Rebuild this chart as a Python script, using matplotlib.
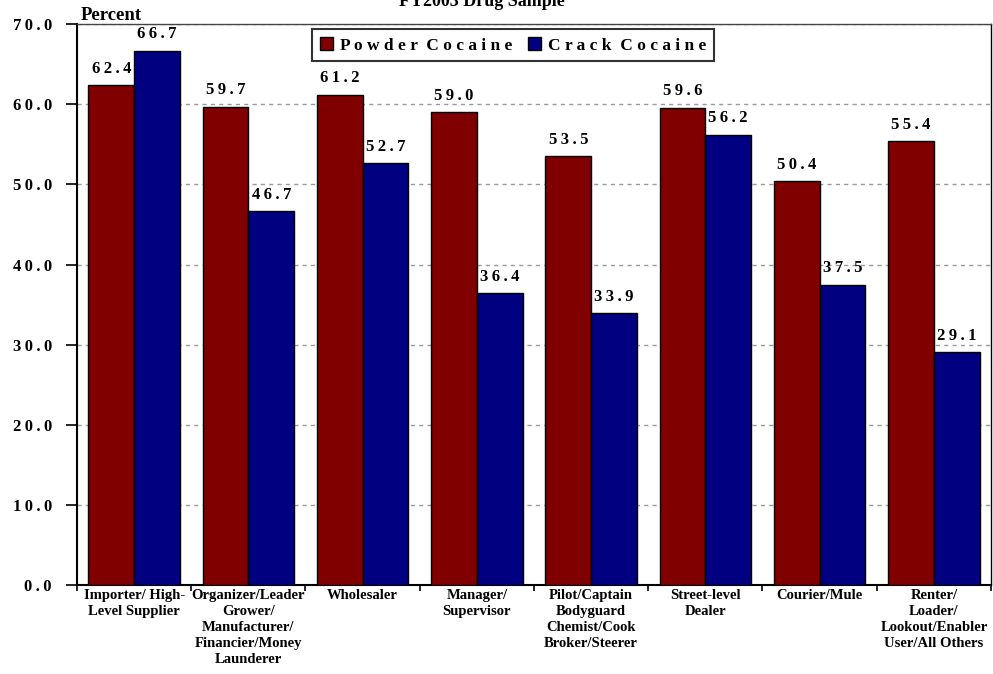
import matplotlib.pyplot as plt
import numpy as np

categories = [
    "Importer/ High-\nLevel Supplier",
    "Organizer/Leader\nGrower/\nManufacturer/\nFinancier/Money\nLaunderer",
    "Wholesaler",
    "Manager/\nSupervisor",
    "Pilot/Captain\nBodyguard\nChemist/Cook\nBroker/Steerer",
    "Street-level\nDealer",
    "Courier/Mule",
    "Renter/\nLoader/\nLookout/Enabler\nUser/All Others",
]
powder = [62.4, 59.7, 61.2, 59.0, 53.5, 59.6, 50.4, 55.4]
crack = [66.7, 46.7, 52.7, 36.4, 33.9, 56.2, 37.5, 29.1]
series_names = ["P o w d e r  C o c a i n e", "C r a c k  C o c a i n e"]
yticks = [0, 10, 20, 30, 40, 50, 60, 70]

plt.rcParams['font.family'] = ['Liberation Serif', 'DejaVu Serif']

TS = '\u2009'  # thin space for the spaced-out digits


def spaced(v):
    return TS.join(f"{v:.1f}")


fig = plt.figure(figsize=(9.93, 6.74), dpi=100)
ax = fig.add_axes([0.0775, 0.132, 0.9205, 0.832])

x = np.arange(len(categories))
w = 0.4
b1 = ax.bar(x - w / 2, powder, w, color='#800000', edgecolor='black', linewidth=1.0,
            label=series_names[0], zorder=3)
b2 = ax.bar(x + w / 2, crack, w, color='#000080', edgecolor='black', linewidth=1.0,
            label=series_names[1], zorder=3)

# value labels above each bar
for bars, vals in [(b1, powder), (b2, crack)]:
    for bar, v in zip(bars, vals):
        ax.annotate(spaced(v), (bar.get_x() + bar.get_width() / 2, v),
                    xytext=(0, 6), textcoords='offset points', ha='center', va='bottom',
                    fontsize=12, fontweight='bold')

ax.set_xlim(-0.5, len(categories) - 0.5)
ax.set_ylim(0, 70)
ax.set_yticks(yticks)
ax.set_yticklabels([spaced(t) for t in yticks], fontsize=12, fontweight='bold')
ax.set_xticks(np.arange(len(categories) + 1) - 0.5, minor=False)
ax.set_xticklabels([])
ax.set_xticks(x, minor=True)
ax.set_xticklabels(categories, minor=True, fontsize=10.5, fontweight='bold', linespacing=1.3)
ax.tick_params(axis='x', which='minor', length=0, pad=3)
ax.tick_params(axis='x', which='major', length=4, width=1.2, direction='out')
ax.tick_params(axis='y', length=8, width=1.2, direction='out', pad=10)

for t in yticks[1:]:
    ax.axhline(t, color='#999999', linestyle=(0, (3, 3)), linewidth=1, zorder=1)

ax.spines['left'].set_linewidth(1.5)
ax.spines['bottom'].set_linewidth(1.5)
ax.spines['top'].set_color('#444444')
ax.spines['top'].set_linewidth(1)
ax.spines['right'].set_linewidth(1)

leg = ax.legend(loc='upper left', bbox_to_anchor=(0.257, 0.991), ncol=2, frameon=True,
                fancybox=False, edgecolor='black', handlelength=0.75, handleheight=0.75,
                handletextpad=0.4, columnspacing=0.9, borderpad=0.45, borderaxespad=0,
                prop={'weight': 'bold', 'size': 12.5})
leg.get_frame().set_linewidth(1.5)

fig.text(0.081, 0.964, "Percent", fontsize=13.5, fontweight='bold', ha='left', va='bottom')
fig.text(0.485, 0.998, "FY2003 Drug Sample", fontsize=13, fontweight='bold', ha='center', va='center')

fig.savefig('out.png', dpi=100)
